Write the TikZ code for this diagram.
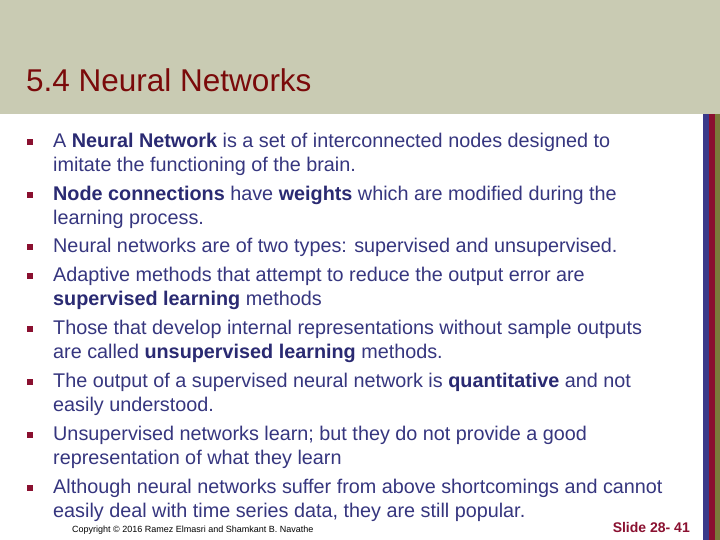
\documentclass[tikz,border=0pt]{standalone}
\usepackage{fontspec}
\setmainfont{Liberation Sans}
\definecolor{band}{HTML}{C9CBB3}
\definecolor{ttl}{HTML}{7A0A0A}
\definecolor{txt}{HTML}{36367F}
\definecolor{bld}{HTML}{2A2A72}
\definecolor{blt}{HTML}{8A1030}
\definecolor{sb}{HTML}{3A3A8A}
\definecolor{sm}{HTML}{8A1030}
\definecolor{so}{HTML}{7A7A3A}
\begin{document}
\begin{tikzpicture}[x=1pt,y=-1pt,
  ln/.style={anchor=west,inner sep=0pt,text=txt,font=\fontsize{19.8}{22}\selectfont},
  bul/.style={fill=blt,minimum size=5.5pt,inner sep=0pt}]
\useasboundingbox (0,0) rectangle (720,540);
\fill[white] (0,0) rectangle (720,540);
\fill[band] (0,0) rectangle (720,114);
\fill[sb] (703,114) rectangle (709,540);
\fill[sm] (709,114) rectangle (715,540);
\fill[so] (715,114) rectangle (720,540);
\node[anchor=west,inner sep=0pt,text=ttl,font=\fontsize{31.5}{34}\selectfont] (title) at (26,80) {5.4 Neural Networks};
\newcommand\B[1]{\textbf{\color{bld}#1}}
\foreach \y [count=\i] in {142,195,247,276,329,382,435,488} {\node[bul] (b\i) at (30,\y) {};}
\node[ln] (l1) at (53,142) {A \B{Neural Network} is a set of interconnected nodes designed to};
\node[ln] (l2) at (53,166) {imitate the functioning of the brain.};
\node[ln] (l3) at (53,195) {\B{Node connections} have \B{weights} which are modified during the};
\node[ln] (l4) at (53,219) {learning process.};
\node[ln] (l5) at (53,247) {Neural networks are of two types: supervised and unsupervised.};
\node[ln] (l6) at (53,276) {Adaptive methods that attempt to reduce the output error are};
\node[ln] (l7) at (53,300) {\B{supervised learning} methods};
\node[ln] (l8) at (53,329) {Those that develop internal representations without sample outputs};
\node[ln] (l9) at (53,353) {are called \B{unsupervised learning} methods.};
\node[ln] (l10) at (53,382) {The output of a supervised neural network is \B{quantitative} and not};
\node[ln] (l11) at (53,406) {easily understood.};
\node[ln] (l12) at (53,435) {Unsupervised networks learn; but they do not provide a good};
\node[ln] (l13) at (53,459) {representation of what they learn};
\node[ln] (l14) at (53,488) {Although neural networks suffer from above shortcomings and cannot};
\node[ln] (l15) at (53,512) {easily deal with time series data, they are still popular.};
\node[anchor=west,inner sep=0pt,font=\fontsize{9}{11}\selectfont] (copy) at (72,530) {Copyright © 2016 Ramez Elmasri and Shamkant B. Navathe};
\node[anchor=east,inner sep=0pt,text=sm,font=\bfseries\fontsize{14}{16}\selectfont] (slide) at (690,527) {Slide 28- 41};
\end{tikzpicture}
\end{document}
